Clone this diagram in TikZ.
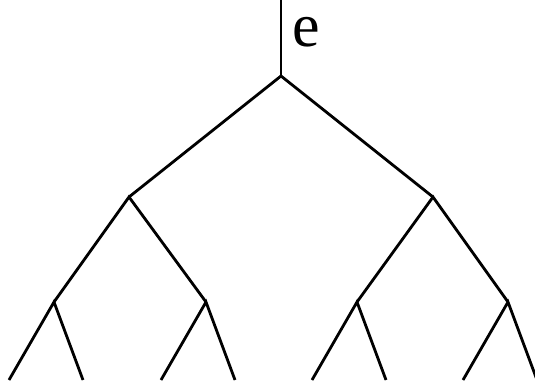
\documentclass[tikz,border=0pt]{standalone}
\usepackage{fontspec}
\setmainfont{Liberation Serif}
\tikzset{
  every picture/.style={line cap=butt, line join=miter},
  branch/.style={black, line width=2.8pt},
  lbl/.style={inner sep=0pt, anchor=base west, font=\rmfamily\fontsize{62}{62}\selectfont},
}
\begin{document}
\begin{tikzpicture}[x=1pt, y=-1pt]
  \useasboundingbox (0,0) rectangle (535,383);
  % root and its stem
  \coordinate (top) at (281,0);
  \coordinate (r) at (281,76);
  \node[lbl] (e) at (292,46) {e};
  % second level
  \coordinate (a) at (129,197);
  \coordinate (b) at (433,197);
  % third level
  \coordinate (aa) at (54,302);
  \coordinate (ab) at (206,302);
  \coordinate (ba) at (357,302);
  \coordinate (bb) at (508,302);
  % leaves
  \foreach \n/\x in {aa/54, ab/206, ba/357, bb/508} {
    \coordinate (\n l) at (\x-45,380);
    \coordinate (\n r) at (\x+29,380);
  }
  \draw[branch] (top) -- (r);
  \draw[branch] (a) -- (r) -- (b);
  \draw[branch] (aa) -- (a) -- (ab);
  \draw[branch] (ba) -- (b) -- (bb);
  \foreach \n in {aa, ab, ba, bb}
    \draw[branch] (\n l) -- (\n) -- (\n r);
\end{tikzpicture}
\end{document}
